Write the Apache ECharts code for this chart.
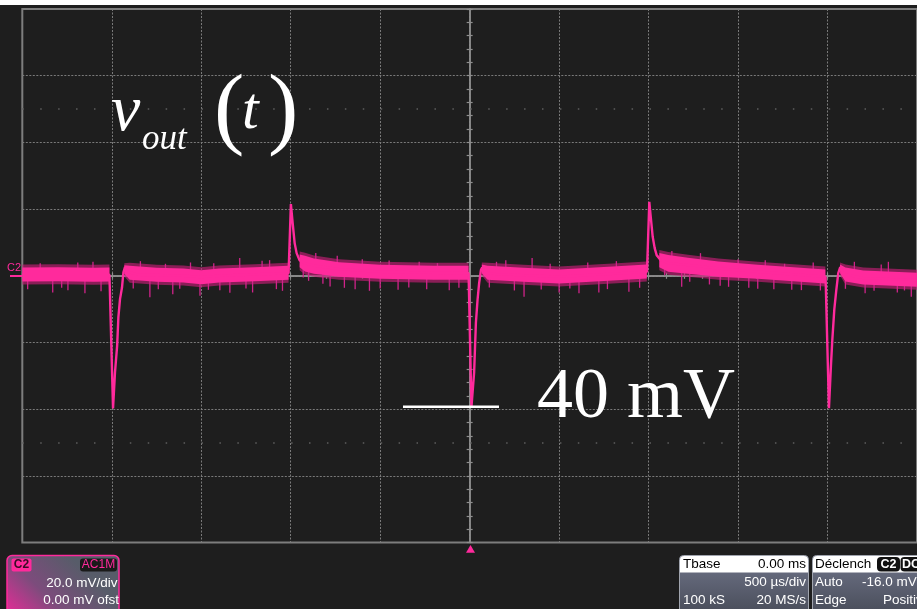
<!DOCTYPE html>
<html>
<head>
<meta charset="utf-8">
<script src="https://cdn.jsdelivr.net/npm/echarts/dist/echarts.min.js"></script>
<style>html,body{margin:0;padding:0;background:#1e1e1e;}#c{width:917px;height:609px;}</style>
</head>
<body>
<div id="c"></div>
<script>
// ---- axis settings (time in ms, voltage in mV) ----
const timeMin = -2.5, timeMax = 2.5, timeStep = 0.5;     // 500 us/div, 10 div
const voltMin = -80, voltMax = 80, voltStep = 20;        // 20 mV/div, 8 div

// ---- main trace (centre line) ----
const traceT = [-2.5, -2.2, -2.013, -1.993, -1.982, -1.970, -1.963, -1.954, -1.943, -1.935, -1.926, -1.909, -1.85, -1.6, -1.5, -1.4, -1.1, -1.012,
  -0.999, -0.989, -0.978, -0.967, -0.951, -0.923, -0.867, -0.727, -0.5, -0.2, -0.006,
  0.010, 0.025, 0.035, 0.044, 0.053, 0.063, 0.070, 0.085, 0.15, 0.5, 0.8, 0.991,
  1.004, 1.012, 1.023, 1.034, 1.045, 1.068, 1.112, 1.224, 1.39, 1.61, 1.989,
  2.008, 2.019, 2.027, 2.038, 2.049, 2.060, 2.071, 2.09, 2.2, 2.5];
const traceV = [0.3, 0.3, 0.3, -39.8, -29, -21, -12.4, -7, -3.6, 1.0, 2.6, 1.2, 0.3, 0.0, -0.4, 0.0, 0.6, 0.8,
  21.5, 15.8, 9.8, 6.8, 4.7, 3.8, 3.0, 2.0, 1.2, 0.9, 0.8,
  -39.4, -29, -14, -7.3, -2.2, 1.7, 2.5, 1.0, 0.5, -0.3, 0.6, 1.2,
  22.2, 17.7, 11.7, 8.3, 6.2, 4.7, 3.8, 3.2, 2.2, 1.2, -0.3,
  -39.7, -27, -19, -10, -4.3, 0.8, 2.6, 0.5, -0.7, -1.3];

// ---- noise band envelopes (null separates segments) ----
const bandT  = [-2.5, -2.3, -2.1, -2.013, null, -1.93, -1.9, -1.75, -1.6, -1.5, -1.4, -1.2, -1.012, null,
  -0.95, -0.92, -0.87, -0.73, -0.5, -0.2, -0.006, null, 0.068, 0.1, 0.3, 0.5, 0.8, 0.99, null,
  1.06, 1.11, 1.22, 1.39, 1.61, 1.988, null, 2.07, 2.1, 2.2, 2.5];
const bandLo = [-1.7, -1.6, -1.8, -1.7, null, 0.6, -1.2, -1.8, -2.0, -2.5, -2.0, -1.6, -1.2, null,
  2.6, 1.3, 0.6, -0.3, -0.9, -1.2, -1.2, null, 0.8, -1.2, -1.8, -2.3, -1.4, -0.8, null,
  2.6, 1.2, 0.6, -0.3, -0.9, -2.3, null, 0.8, -1.7, -2.6, -3.3];
const bandHi = [2.5, 2.6, 2.4, 2.5, null, 3.2, 3.0, 2.4, 2.2, 1.7, 2.2, 2.6, 3.0, null,
  6.4, 6.0, 5.2, 4.1, 3.3, 3.0, 3.0, null, 3.4, 3.0, 2.4, 1.9, 2.8, 3.4, null,
  6.8, 6.2, 5.4, 4.3, 3.3, 1.9, null, 3.4, 2.5, 1.6, 0.9];
const haloLo = [-2.6, -2.5, -2.7, -2.6, null, -0.1, -2.1, -2.7, -2.9, -3.4, -2.9, -2.5, -2.1, null,
  1.7, 0.4, -0.3, -1.2, -1.8, -2.1, -2.1, null, 0.1, -2.1, -2.7, -3.2, -2.3, -1.7, null,
  1.7, 0.3, -0.3, -1.2, -1.8, -3.2, null, 0.1, -2.6, -3.5, -4.2];
const haloHi = [3.4, 3.5, 3.3, 3.4, null, 3.8, 3.9, 3.3, 3.1, 2.6, 3.1, 3.5, 3.9, null,
  7.3, 6.9, 6.1, 5.0, 4.2, 3.9, 3.9, null, 4.0, 3.9, 3.3, 2.8, 3.7, 4.3, null,
  7.7, 7.1, 6.3, 5.2, 4.2, 2.8, null, 4.0, 3.4, 2.5, 1.8];

// ---- isolated noise glitches (time ms, tip mV) ----
const glitchT = [-2.47, -2.40, -2.33, -2.28, -2.245, -2.19, -2.15, -2.105, -2.06,
  -1.88, -1.84, -1.787, -1.74, -1.70, -1.659, -1.62, -1.56, -1.507, -1.46, -1.43, -1.396, -1.34, -1.285, -1.25, -1.213, -1.16, -1.118, -1.08, -1.046,
  -0.93, -0.90, -0.86, -0.82, -0.78, -0.74, -0.70, -0.64, -0.60, -0.56, -0.50, -0.45, -0.40, -0.34, -0.282, -0.24, -0.18, -0.114, -0.06,
  0.11, 0.15, 0.202, 0.25, 0.304, 0.349, 0.40, 0.45, 0.50, 0.56, 0.611, 0.66, 0.722, 0.77, 0.82, 0.89, 0.95,
  1.09, 1.13, 1.185, 1.23, 1.29, 1.34, 1.40, 1.447, 1.50, 1.56, 1.61, 1.652, 1.70, 1.76, 1.80, 1.854, 1.92, 1.96,
  2.10, 2.15, 2.21, 2.26, 2.30, 2.34, 2.39, 2.43, 2.468];
const glitchV = [-4.0, 3.8, -5.0, -3.6, -4.3, 4.0, -5.2, 4.2, -4.6,
  -3.8, 4.4, -6.4, -4.0, 3.6, -5.5, -3.9, 4.0, -6.0, -4.2, 3.8, -4.3, -5.1, 5.3, -3.8, -5.0, 4.5, 4.7, -4.0, -4.5,
  -0.5, -1.5, 6.8, -2.4, -3.2, 6.0, -3.6, -4.0, 5.0, -4.5, -3.8, 4.6, -4.2, -3.5, 4.2, -4.0, 3.8, -4.3, -3.6,
  -3.5, 4.2, 4.7, -4.4, -6.3, 5.3, -4.1, 3.6, -5.0, -3.8, -5.2, 4.0, -5.0, -4.0, 4.4, -4.8, -3.6,
  0.2, 7.4, -3.3, -1.8, 6.8, -2.6, -3.0, -3.3, 5.0, -3.6, -3.9, 4.7, -4.0, 3.6, -4.2, -4.3, 4.0, -4.4,
  -3.9, 4.2, -5.2, -4.5, 3.4, 4.2, -5.0, -4.4, -6.3];

// build segments of the band
const segments = [];
let cur = [];
bandT.forEach((t, i) => { if (t === null) { if (cur.length) segments.push(cur); cur = []; } else cur.push(i); });
if (cur.length) segments.push(cur);

// centre of the band at time t (for anchoring glitches on the band)
function bandCentre(t) {
  for (const seg of segments) {
    for (let k = 0; k < seg.length - 1; k++) {
      const a = seg[k], b = seg[k + 1];
      if (t >= bandT[a] && t <= bandT[b]) {
        const f = (t - bandT[a]) / (bandT[b] - bandT[a]);
        const ma = (bandLo[a] + bandHi[a]) / 2, mb = (bandLo[b] + bandHi[b]) / 2;
        return ma + f * (mb - ma);
      }
    }
  }
  return 0;
}

function bandRender(lo, hi, color) {
  return function (params, api) {
    const seg = segments[params.dataIndex];
    const pts = [];
    seg.forEach(i => pts.push(api.coord([bandT[i], hi[i]])));
    for (let k = seg.length - 1; k >= 0; k--) pts.push(api.coord([bandT[seg[k]], lo[seg[k]]]));
    return { type: 'polygon', shape: { points: pts }, style: { fill: color } };
  };
}

const PINK = '#ff2a9c';
const GRID_C = '#7a7a7a';
const AXIS_C = '#8e8e8e';

function axisCommon(extra) {
  return Object.assign({
    type: 'value', axisLabel: { show: false },
    axisLine: { show: true, onZero: true, onZeroAxisIndex: 0, lineStyle: { color: AXIS_C, width: 1.5 } },
    axisTick: { show: true, length: 3, lineStyle: { color: AXIS_C, width: 1.2 } },
    minorTick: { show: true, splitNumber: 5, length: 3, lineStyle: { color: AXIS_C, width: 1.2 } },
    splitLine: { show: false }
  }, extra);
}
const splitMain = { show: true, showMinLine: false, showMaxLine: false, lineStyle: { color: GRID_C, width: 1, type: [2, 1.5] } };

function txt(x, y, text, size, extra, styleExtra) {
  return Object.assign({ type: 'text', x: x, y: y, z: 12,
    style: Object.assign({ text: text, fill: '#fff', fontSize: size, fontFamily: 'Liberation Sans', textVerticalAlign: 'middle', verticalAlign: 'middle' }, styleExtra || {}) }, extra || {});
}
const RIGHT = { textAlign: 'right', align: 'right' };
const CENTER = { textAlign: 'center', align: 'center' };
const SERIF = 'Liberation Serif';

const chart = echarts.init(document.getElementById('c'));
const option = {
  backgroundColor: '#1e1e1e',
  animation: false,
  grid: { left: 22.3, top: 9, width: 896, height: 533.6, show: true, backgroundColor: '#1e1e1e', borderColor: '#7d7d7d', borderWidth: 2 },
  xAxis: [
    axisCommon({ min: timeMin, max: timeMax, interval: timeStep, position: 'bottom', splitLine: splitMain }),
    axisCommon({ min: timeMin, max: timeMax, interval: timeStep, position: 'top' })
  ],
  yAxis: [
    axisCommon({ min: voltMin, max: voltMax, interval: voltStep, position: 'left', splitLine: splitMain }),
    axisCommon({ min: voltMin, max: voltMax, interval: voltStep, position: 'right' })
  ],
  series: [
    {
      type: 'custom', name: 'halo', xAxisIndex: 0, yAxisIndex: 0, z: 2, silent: true,
      data: segments.map((s, i) => [bandT[s[0]], 0, i]),
      renderItem: bandRender(haloLo, haloHi, 'rgba(196,30,118,0.65)')
    },
    {
      type: 'custom', name: 'glitch', xAxisIndex: 0, yAxisIndex: 0, z: 2, silent: true,
      data: glitchT.map((t, i) => [t, glitchV[i]]),
      renderItem: function (params, api) {
        const t = api.value(0);
        const a = api.coord([t, bandCentre(t)]);
        const b = api.coord([t, api.value(1)]);
        return { type: 'line', shape: { x1: a[0], y1: a[1], x2: b[0], y2: b[1] }, style: { stroke: '#d0238a', lineWidth: 1.3 } };
      }
    },
    {
      type: 'custom', name: 'band', xAxisIndex: 0, yAxisIndex: 0, z: 3, silent: true,
      data: segments.map((s, i) => [bandT[s[0]], 0, i]),
      renderItem: bandRender(bandLo, bandHi, PINK)
    },
    {
      type: 'line', name: 'vout', xAxisIndex: 0, yAxisIndex: 0, z: 4, silent: true,
      showSymbol: false, symbol: 'none',
      lineStyle: { color: PINK, width: 2.4 },
      data: traceT.map((t, i) => [t, traceV[i]]),
      markLine: {
        silent: true, symbol: 'none', label: { show: false },
        lineStyle: { color: '#5e5e5e', width: 1.6, type: [1.5, 16.42] },
        data: [{ yAxis: 50 }, { yAxis: -50 }]
      }
    }
  ],
  graphic: [
    { type: 'rect', shape: { x: 0, y: 0, width: 917, height: 5 }, style: { fill: '#ffffff' }, z: 10 },
    // channel marker
    txt(7, 267.5, 'C2', 11, null, { fill: PINK }),
    { type: 'line', shape: { x1: 10, y1: 276, x2: 22, y2: 276 }, style: { stroke: PINK, lineWidth: 2 }, z: 10 },
    // trigger marker
    { type: 'polygon', shape: { points: [[466, 552.7], [470.5, 545], [475, 552.7]] }, style: { fill: PINK }, z: 10 },
    // v_out(t)
    txt(111, 112.5, 'v', 66, null, { fontStyle: 'italic', fontFamily: SERIF }),
    txt(142, 139.5, 'out', 35, null, { fontStyle: 'italic', fontFamily: SERIF }),
    txt(214, 113.1, '(', 91, null, { fontFamily: SERIF }),
    txt(242, 112.3, 't', 60, null, { fontStyle: 'italic', fontFamily: SERIF }),
    txt(268, 113.1, ')', 91, null, { fontFamily: SERIF }),
    // 40 mV scale annotation
    { type: 'line', shape: { x1: 403, y1: 406.7, x2: 499, y2: 406.7 }, style: { stroke: '#fff', lineWidth: 2.5 }, z: 10 },
    txt(537, 398.4, '40 mV', 72, null, { fontFamily: SERIF }),
    // C2 channel box
    { type: 'rect', shape: { x: 7, y: 555.5, width: 112, height: 62, r: 5 }, z: 10,
      style: { fill: new echarts.graphic.LinearGradient(0, 1, 0.55, 0, [{ offset: 0, color: '#f0289a' }, { offset: 0.5, color: '#7c4c7c' }, { offset: 1, color: '#575c69' }]), stroke: PINK, lineWidth: 1.5 } },
    { type: 'rect', shape: { x: 11.5, y: 558.5, width: 20, height: 13, r: 2 }, style: { fill: PINK }, z: 11 },
    txt(21.5, 565, 'C2', 12, null, Object.assign({ fill: '#3a0c26', fontWeight: 'bold' }, CENTER)),
    { type: 'rect', shape: { x: 80, y: 558.5, width: 37, height: 13, r: 3 }, style: { fill: '#1a1a1a' }, z: 11 },
    txt(98.5, 565, 'AC1M', 12, null, Object.assign({ fill: PINK }, CENTER)),
    txt(117.5, 583, '20.0 mV/div', 13.5, null, RIGHT),
    txt(119, 600.5, '0.00 mV ofst', 13.5, null, RIGHT),
    // Tbase box
    { type: 'rect', shape: { x: 679.5, y: 555.5, width: 129, height: 62, r: 4 }, z: 10,
      style: { fill: new echarts.graphic.LinearGradient(0, 0, 0, 1, [{ offset: 0, color: '#70758a' }, { offset: 1, color: '#464a56' }]), stroke: '#a0a4ae', lineWidth: 1 } },
    { type: 'rect', shape: { x: 680, y: 556, width: 128, height: 16.5, r: [4, 4, 0, 0] }, style: { fill: '#ffffff' }, z: 11 },
    txt(683, 564.5, 'Tbase', 13.5, null, { fill: '#000' }),
    txt(806, 564.5, '0.00 ms', 13.5, null, Object.assign({ fill: '#000' }, RIGHT)),
    txt(806, 582, '500 µs/div', 13.5, null, RIGHT),
    txt(683, 600, '100 kS', 13.5),
    txt(806, 600, '20 MS/s', 13.5, null, RIGHT),
    // Trigger box
    { type: 'rect', shape: { x: 812.5, y: 555.5, width: 130, height: 62, r: 4 }, z: 10,
      style: { fill: new echarts.graphic.LinearGradient(0, 0, 0, 1, [{ offset: 0, color: '#70758a' }, { offset: 1, color: '#464a56' }]), stroke: '#a0a4ae', lineWidth: 1 } },
    { type: 'rect', shape: { x: 813, y: 556, width: 120, height: 16.5, r: [4, 4, 0, 0] }, style: { fill: '#ffffff' }, z: 11 },
    txt(815, 564.5, 'Déclench', 13.5, null, { fill: '#000' }),
    { type: 'rect', shape: { x: 877, y: 557, width: 23, height: 14.5, r: 4 }, style: { fill: '#111' }, z: 12 },
    txt(888.5, 564.5, 'C2', 12.5, { z: 13 }, Object.assign({ fontWeight: 'bold' }, CENTER)),
    { type: 'rect', shape: { x: 900.5, y: 557, width: 25, height: 14.5, r: 4 }, style: { fill: '#111' }, z: 12 },
    txt(902, 564.5, 'DC', 12.5, { z: 13 }, { fontWeight: 'bold' }),
    txt(815, 582, 'Auto', 13.5),
    txt(862, 582, '-16.0 mV', 13.5),
    txt(815, 600, 'Edge', 13.5),
    txt(883, 600, 'Positive', 13.5)
  ]
};
chart.setOption(option);
</script>
</body>
</html>
